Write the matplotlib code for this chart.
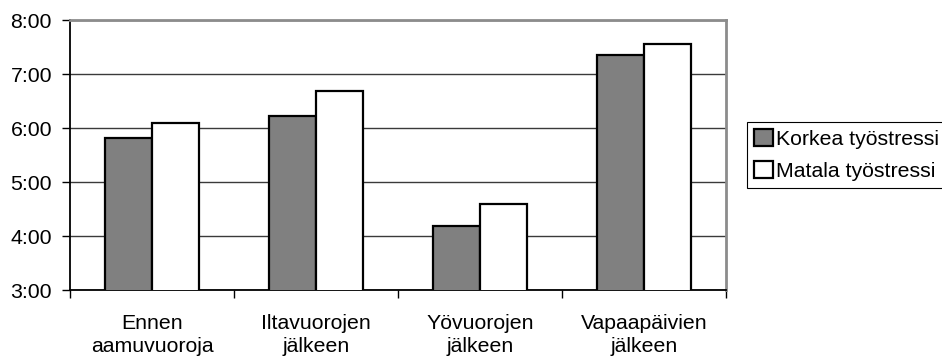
import numpy as np
import matplotlib
matplotlib.use("Agg")
import matplotlib.pyplot as plt
from matplotlib.ticker import FuncFormatter, FixedLocator

plt.rcParams['font.family'] = ['Liberation Sans', 'DejaVu Sans']
plt.rcParams['font.size'] = 15.3

# sleep length (hours) by shift type and work stress level
categories = ['Ennen\naamuvuoroja', 'Iltavuorojen\njälkeen', 'Yövuorojen\njälkeen', 'Vapaapäivien\njälkeen']
korkea = [5.81, 6.22, 4.19, 7.36]
matala = [6.09, 6.68, 4.60, 7.56]
series_names = ['Korkea työstressi', 'Matala työstressi']

fig = plt.figure(figsize=(9.42, 3.6), dpi=100)
ax = fig.add_axes([0.0743, 0.1944, 0.6964, 0.75])

x = np.arange(len(categories))
w = 0.288
ax.bar(x - w / 2, korkea, w, color='#808080', edgecolor='black', linewidth=1.6,
       label=series_names[0], zorder=3)
ax.bar(x + w / 2, matala, w, color='white', edgecolor='black', linewidth=1.6,
       label=series_names[1], zorder=3)

ax.set_xlim(-0.5, len(categories) - 0.5)
ax.set_ylim(3, 8)
ax.set_yticks(np.arange(3, 9))
ax.yaxis.set_major_formatter(FuncFormatter(lambda v, p: f"{int(v)}:{int(round((v % 1) * 60)):02d}"))
ax.yaxis.grid(True, color='#3a3a3a', linewidth=1.0, zorder=0)

# tick marks between groups, labels at group centres
ax.xaxis.set_major_locator(FixedLocator(np.arange(len(categories) + 1) - 0.5))
ax.xaxis.set_major_formatter(FuncFormatter(lambda v, p: ''))
ax.set_xticks(x, minor=True)
ax.set_xticklabels(categories, minor=True, linespacing=1.3)
ax.tick_params(axis='x', which='major', direction='out', length=6, width=1, color='black')
ax.tick_params(axis='x', which='minor', length=0, pad=17)
ax.tick_params(axis='y', direction='out', length=6, width=1, pad=7)

for s in ['left', 'bottom']:
    ax.spines[s].set_color('black')
    ax.spines[s].set_linewidth(1.3)
for s in ['top', 'right']:
    ax.spines[s].set_color('#8c8c8c')
    ax.spines[s].set_linewidth(2)

leg = fig.legend(loc='upper left', bbox_to_anchor=(0.793, 0.661), frameon=True,
                 fancybox=False, edgecolor='black', framealpha=1,
                 handlelength=0.85, handleheight=0.85, handletextpad=0.15,
                 labelspacing=0.55, borderpad=0.35, borderaxespad=0)
leg.get_frame().set_linewidth(0.8)

fig.savefig('out.png', dpi=100)
